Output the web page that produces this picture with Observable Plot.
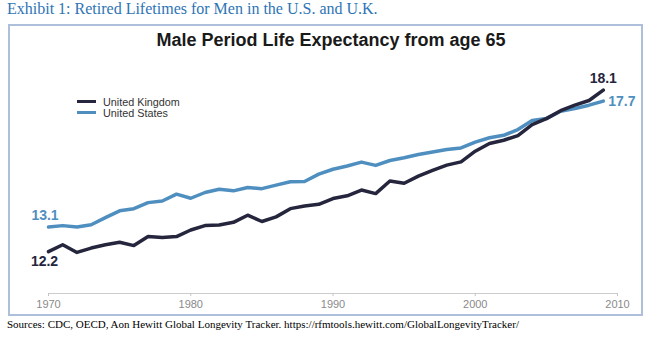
<!DOCTYPE html>
<html><head><meta charset="utf-8">
<script src="https://cdn.jsdelivr.net/npm/d3@7"></script>
<script src="https://cdn.jsdelivr.net/npm/@observablehq/plot@0.6"></script>
<style>
body{margin:0;width:658px;height:351px;position:relative;background:#fff;overflow:hidden}
#exhibit{position:absolute;left:7px;top:0px;font:16px "Liberation Serif",serif;color:#2e74b5;white-space:nowrap}
#box{position:absolute;left:8px;top:24px;width:635px;height:292px;border:2px solid #aebfdc;box-sizing:border-box}
#title{position:absolute;left:2px;top:30px;width:658px;text-align:center;font:bold 18px "Liberation Sans",Arial,sans-serif;color:#1a1a1a}
#chart{position:absolute;left:0;top:0}
.lg{position:absolute;font:10.8px "Liberation Sans",Arial,sans-serif;color:#333;white-space:nowrap;line-height:12px}
.sw{position:absolute;height:3px;width:19px}
#source{position:absolute;left:7px;top:318px;font:11px "Liberation Serif",serif;color:#000;white-space:nowrap}
</style></head>
<body>
<div id="exhibit">Exhibit 1: Retired Lifetimes for Men in the U.S. and U.K.</div>
<div id="box"></div>
<div id="chart"></div>
<div id="title">Male Period Life Expectancy from age 65</div>
<div class="sw" style="left:77px;top:100px;background:#25253d"></div>
<div class="lg" style="left:103px;top:96px">United Kingdom</div>
<div class="sw" style="left:77px;top:111px;background:#4f8fc0"></div>
<div class="lg" style="left:103px;top:107px">United States</div>
<div id="source">Sources: CDC, OECD, Aon Hewitt Global Longevity Tracker. https://rfmtools.hewitt.com/GlobalLongevityTracker/</div>
<script>
const years = [1970,1971,1972,1973,1974,1975,1976,1977,1978,1979,
               1980,1981,1982,1983,1984,1985,1986,1987,1988,1989,
               1990,1991,1992,1993,1994,1995,1996,1997,1998,1999,
               2000,2001,2002,2003,2004,2005,2006,2007,2008,2009];
const ukLE = [12.2,12.45,12.17,12.33,12.45,12.54,12.42,12.75,12.72,12.75,
              12.99,13.15,13.17,13.27,13.53,13.30,13.47,13.77,13.87,13.93,
              14.14,14.24,14.45,14.32,14.78,14.70,14.96,15.17,15.36,15.48,
              15.87,16.15,16.27,16.44,16.84,17.06,17.35,17.55,17.72,18.1];
const usLE = [13.1,13.15,13.1,13.18,13.44,13.69,13.77,13.99,14.05,14.3,
              14.15,14.36,14.48,14.42,14.54,14.5,14.63,14.75,14.76,15.03,
              15.21,15.33,15.47,15.35,15.53,15.63,15.75,15.84,15.93,15.99,
              16.2,16.36,16.45,16.66,16.99,17.06,17.33,17.43,17.55,17.7];
const tickYears = [1970,1980,1990,2000,2010];
const ukColor = "#25253d", usColor = "#4f8fc0";

const uk = years.map((y,i)=>({year:y, value:ukLE[i]}));
const us = years.map((y,i)=>({year:y, value:usLE[i]}));
const fmt = d => d.value.toFixed(1);
const lab = {fontFamily:"Liberation Sans, Arial, sans-serif", fontSize:14, fontWeight:"bold"};

const chart = Plot.plot({
  width:658, height:320,
  marginLeft:48, marginRight:41, marginTop:65, marginBottom:27,
  x:{domain:[1970,2010]},
  y:{domain:[10.67,19], axis:null},
  style:{background:"transparent", fontFamily:"Liberation Sans, Arial, sans-serif"},
  marks:[
    Plot.frame({anchor:"bottom", stroke:"#cccccc"}),
    Plot.axisX({ticks:tickYears, tickFormat:d=>String(d), tickSize:3, tickPadding:4, stroke:"#c4c4c4", fill:"#8a8a8a", fontSize:11, label:null}),
    Plot.line(us, {x:"year", y:"value", stroke:usColor, strokeWidth:3.5}),
    Plot.line(uk, {x:"year", y:"value", stroke:ukColor, strokeWidth:3.5}),
    Plot.text([uk[0]], {x:"year", y:"value", text:fmt, fill:ukColor, dx:-4, dy:10, ...lab}),
    Plot.text([us[0]], {x:"year", y:"value", text:fmt, fill:usColor, dx:-3.5, dy:-11, ...lab}),
    Plot.text([uk[uk.length-1]], {x:"year", y:"value", text:fmt, fill:ukColor, dy:-11.5, ...lab}),
    Plot.text([us[us.length-1]], {x:"year", y:"value", text:fmt, fill:usColor, dx:5, dy:0.5, textAnchor:"start", ...lab})
  ]
});
document.getElementById("chart").appendChild(chart);
</script>
</body></html>
